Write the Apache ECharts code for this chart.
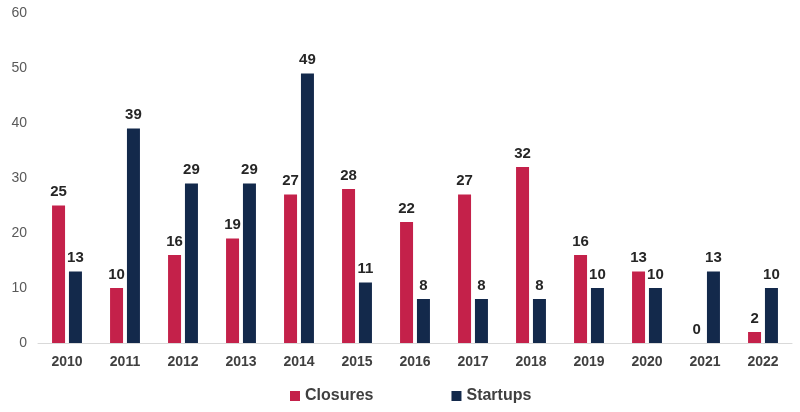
<!DOCTYPE html>
<html><head><meta charset="utf-8">
<script src="https://cdn.jsdelivr.net/npm/echarts@6/dist/echarts.min.js"></script>
<style>html,body{margin:0;padding:0;background:#fff}#c{width:800px;height:412px}</style>
</head><body><div id="c"></div>
<script>
const years = ['2010','2011','2012','2013','2014','2015','2016','2017','2018','2019','2020','2021','2022'];
const closures = [25,10,16,19,27,28,22,27,32,16,13,0,2];
const startups = [13,39,29,29,49,11,8,8,8,10,10,13,10];
const yTicks = [0,10,20,30,40,50,60];

const chart = echarts.init(document.getElementById('c'));
const lbl = {show:true, position:'top', distance:6, fontFamily:'Arial, Liberation Sans', fontWeight:'bold', fontSize:15, color:'#262626'};
chart.setOption({
  animation:false,
  textStyle:{fontFamily:'Arial, Liberation Sans'},
  grid:{left:38, right:8, top:13, bottom:69},
  legend:{bottom:3, left:285, itemWidth:10, itemHeight:10, itemGap:78, icon:'rect',
    textStyle:{fontSize:16, fontWeight:'bold', color:'#404040', fontFamily:'Arial, Liberation Sans'},
    data:['Closures','Startups']},
  xAxis:{type:'category', data:years,
    axisLine:{lineStyle:{color:'#d9d9d9', width:1}}, axisTick:{show:false},
    axisLabel:{fontSize:14, fontWeight:'bold', color:'#404040', margin:12}},
  yAxis:{type:'value', min:0, max:60, interval:10,
    splitLine:{show:false}, axisLine:{show:false}, axisTick:{show:false},
    axisLabel:{fontSize:14, color:'#595959', margin:11,
      formatter: v => yTicks.includes(v) ? String(v) : ''}},
  series:[
    {name:'Closures', type:'bar', data:closures, barWidth:13, barGap:'30%', itemStyle:{color:'#C4214A'}, label:lbl},
    {name:'Startups', type:'bar', data:startups, barWidth:13, itemStyle:{color:'#13294B'}, label:lbl}
  ]
});
</script></body></html>
